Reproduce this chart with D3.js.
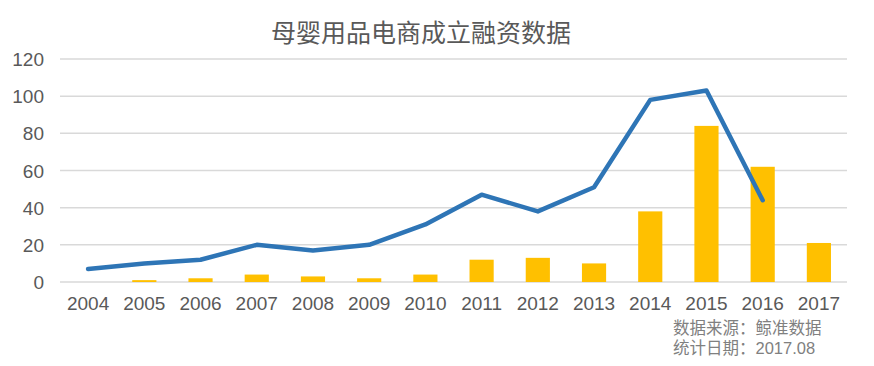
<!DOCTYPE html>
<html>
<head>
<meta charset="utf-8">
<script src="https://d3js.org/d3.v7.min.js"></script>
<style>
  body { margin: 0; background: white; }
  text { font-family: "Liberation Sans", "Noto Sans CJK SC", sans-serif; }
</style>
</head>
<body>
<svg width="874" height="366"></svg>
<script>
// data
const years = ['2004','2005','2006','2007','2008','2009','2010','2011','2012','2013','2014','2015','2016','2017'];
const lineValues = [7, 10, 12, 20, 17, 20, 31, 47, 38, 51, 98, 103, 44, null];
const barValues = [0, 1, 2, 4, 3, 2, 4, 12, 13, 10, 38, 84, 62, 21];
const yTicks = [0, 20, 40, 60, 80, 100, 120];
const titleText = '母婴用品电商成立融资数据';
const sourceLines = ['数据来源：鲸准数据', '统计日期：2017.08'];

const svg = d3.select('svg');

var x = d3.scaleBand().domain(years).range([60, 847]).padding(0);
var y = d3.scaleLinear().domain([0, 120]).range([282, 59]);
var barW = x.bandwidth() * 0.43;

// gridlines
svg.append('g')
  .selectAll('line').data(yTicks).enter().append('line')
  .attr('x1', 60).attr('x2', 847)
  .attr('y1', d => y(d)).attr('y2', d => y(d))
  .attr('stroke', '#d9d9d9').attr('stroke-width', 1.5);

// y tick labels
svg.append('g')
  .selectAll('text').data(yTicks).enter().append('text')
  .attr('x', 44).attr('y', d => y(d) + 7)
  .attr('text-anchor', 'end')
  .attr('font-size', 19).attr('fill', '#595959')
  .text(d => d);

// x labels
svg.append('g')
  .selectAll('text').data(years).enter().append('text')
  .attr('x', d => x(d) + x.bandwidth() / 2).attr('y', 310)
  .attr('text-anchor', 'middle')
  .attr('font-size', 19).attr('fill', '#595959')
  .text(d => d);

// bars
svg.append('g')
  .selectAll('rect').data(barValues).enter().append('rect')
  .attr('x', (d, i) => x(years[i]) + (x.bandwidth() - barW) / 2)
  .attr('y', d => y(d))
  .attr('width', barW)
  .attr('height', d => y(0) - y(d))
  .attr('fill', '#ffc000');

// line
var line = d3.line()
  .defined(d => d != null)
  .x((d, i) => x(years[i]) + x.bandwidth() / 2)
  .y(d => y(d));

svg.append('path')
  .datum(lineValues)
  .attr('d', line)
  .attr('fill', 'none')
  .attr('stroke', '#2e75b6')
  .attr('stroke-width', 4.5)
  .attr('stroke-linejoin', 'round')
  .attr('stroke-linecap', 'round');

// title
svg.append('text')
  .attr('x', 421).attr('y', 42)
  .attr('text-anchor', 'middle')
  .attr('font-size', 25).attr('fill', '#595959')
  .text(titleText);

// source note
svg.append('g')
  .selectAll('text').data(sourceLines).enter().append('text')
  .attr('x', 673).attr('y', (d, i) => 334 + i * 20)
  .attr('font-size', 16.5).attr('fill', '#808080')
  .text(d => d);
</script>
</body>
</html>
